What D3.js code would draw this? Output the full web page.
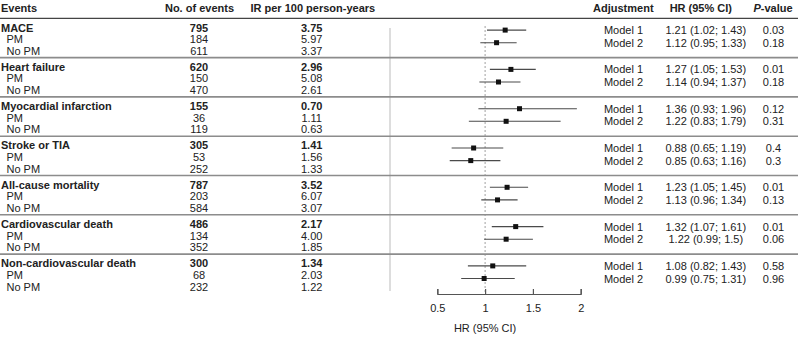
<!DOCTYPE html>
<html>
<head>
<meta charset="utf-8">
<script src="https://cdn.jsdelivr.net/npm/d3@7"></script>
<style>
  body { margin: 0; background: #fff; }
  svg text { font-family: "Liberation Sans", Arial, Helvetica, sans-serif; font-size: 11px; fill: #222; }
</style>
</head>
<body>
<script>
// ---- data ----
var groups = ["MACE", "Heart failure", "Myocardial infarction", "Stroke or TIA",
  "All-cause mortality", "Cardiovascular death", "Non-cardiovascular death"];
var subLabels = ["PM", "No PM"];
var eventsTotal = [795, 620, 155, 305, 787, 486, 300];
var eventsPM    = [184, 150, 36, 53, 203, 134, 68];
var eventsNoPM  = [611, 470, 119, 252, 584, 352, 232];
var irTotal = [3.75, 2.96, 0.70, 1.41, 3.52, 2.17, 1.34];
var irPM    = [5.97, 5.08, 1.11, 1.56, 6.07, 4.00, 2.03];
var irNoPM  = [3.37, 2.61, 0.63, 1.33, 3.07, 1.85, 1.22];
var models = ["Model 1", "Model 2"];
var hr1 = [1.21, 1.27, 1.36, 0.88, 1.23, 1.32, 1.08];
var lo1 = [1.02, 1.05, 0.93, 0.65, 1.05, 1.07, 0.82];
var hi1 = [1.43, 1.53, 1.96, 1.19, 1.45, 1.61, 1.43];
var p1  = [0.03, 0.01, 0.12, 0.4, 0.01, 0.01, 0.58];
var hr2 = [1.12, 1.14, 1.22, 0.85, 1.13, 1.22, 0.99];
var lo2 = [0.95, 0.94, 0.83, 0.63, 0.96, 0.99, 0.75];
var hi2 = [1.33, 1.37, 1.79, 1.16, 1.34, 1.5, 1.31];
var p2  = [0.18, 0.18, 0.31, 0.3, 0.13, 0.06, 0.96];
var xTicks = [0.5, 1, 1.5, 2];

var width = 798, height = 338;
var headerLine = 18.3, groupStep = 39.3;

var svg = d3.select("body").append("svg")
    .attr("width", width)
    .attr("height", height);

var x = d3.scaleLinear().domain([0.5, 2]).range([437.3, 580.7]);
function groupTop(i) { return headerLine + groupStep * i; }

// headers
var hdr = svg.append("g").attr("font-weight", "bold");
hdr.append("text").attr("x", 1).attr("y", 12).text("Events");
hdr.append("text").attr("x", 199.5).attr("y", 12).attr("text-anchor", "middle").text("No. of events");
hdr.append("text").attr("x", 312.8).attr("y", 12).attr("text-anchor", "middle").text("IR per 100 person-years");
hdr.append("text").attr("x", 623.3).attr("y", 12).attr("text-anchor", "middle").text("Adjustment");
hdr.append("text").attr("x", 700.8).attr("y", 12).attr("text-anchor", "middle").text("HR (95% CI)");
var pv = hdr.append("text").attr("x", 773).attr("y", 12).attr("text-anchor", "middle");
pv.append("tspan").attr("font-style", "italic").text("P");
pv.append("tspan").text("-value");

// light vertical line and reference line
svg.append("line")
  .attr("x1", 390).attr("x2", 390).attr("y1", 28).attr("y2", 291)
  .attr("stroke", "#d2d2d2").attr("stroke-width", 1.5);
svg.append("line")
  .attr("x1", x(1)).attr("x2", x(1)).attr("y1", 26).attr("y2", 292)
  .attr("stroke", "#a0a0a0").attr("stroke-width", 1).attr("stroke-dasharray", "2,2");

// horizontal rules
svg.append("line")
  .attr("x1", 0).attr("x2", width).attr("y1", headerLine).attr("y2", headerLine)
  .attr("stroke", "#444").attr("stroke-width", 1.2);
svg.selectAll(".sep").data(groups.slice(1)).enter().append("line")
  .attr("class", "sep")
  .attr("x1", 0).attr("x2", width)
  .attr("y1", function(d, i) { return groupTop(i + 1); })
  .attr("y2", function(d, i) { return groupTop(i + 1); })
  .attr("stroke", "#8c8c8c").attr("stroke-width", 1.6);

// left table
function rowY(i, j) { return groupTop(i) + 9.3 + 11.6 * j + 3.9; }
var g = svg.selectAll(".grp").data(groups).enter().append("g").attr("class", "grp");
g.append("text").attr("x", 1).attr("y", function(d, i) { return rowY(i, 0); })
  .attr("font-weight", "bold").text(function(d) { return d; });
g.append("text").attr("x", 199).attr("y", function(d, i) { return rowY(i, 0); })
  .attr("text-anchor", "middle").attr("font-weight", "bold")
  .text(function(d, i) { return eventsTotal[i]; });
g.append("text").attr("x", 311.7).attr("y", function(d, i) { return rowY(i, 0); })
  .attr("text-anchor", "middle").attr("font-weight", "bold")
  .text(function(d, i) { return irTotal[i].toFixed(2); });
subLabels.forEach(function(lab, j) {
  var ev = j === 0 ? eventsPM : eventsNoPM;
  var ir = j === 0 ? irPM : irNoPM;
  g.append("text").attr("x", 6.5).attr("y", function(d, i) { return rowY(i, j + 1); })
    .text(lab);
  g.append("text").attr("x", 199).attr("y", function(d, i) { return rowY(i, j + 1); })
    .attr("text-anchor", "middle").text(function(d, i) { return ev[i]; });
  g.append("text").attr("x", 311.7).attr("y", function(d, i) { return rowY(i, j + 1); })
    .attr("text-anchor", "middle").text(function(d, i) { return ir[i].toFixed(2); });
});

// forest + right table
function modelY(i, m) { return groupTop(i) + 11.8 + 12.6 * m; }
models.forEach(function(mod, m) {
  var hr = m === 0 ? hr1 : hr2, lo = m === 0 ? lo1 : lo2, hi = m === 0 ? hi1 : hi2, p = m === 0 ? p1 : p2;
  g.append("line")
    .attr("x1", function(d, i) { return x(lo[i]); })
    .attr("x2", function(d, i) { return x(hi[i]); })
    .attr("y1", function(d, i) { return modelY(i, m); })
    .attr("y2", function(d, i) { return modelY(i, m); })
    .attr("stroke", "#4a4a4a").attr("stroke-width", 1.1);
  g.append("rect")
    .attr("x", function(d, i) { return x(hr[i]) - 2.5; })
    .attr("y", function(d, i) { return modelY(i, m) - 2.5; })
    .attr("width", 5).attr("height", 5).attr("fill", "#111");
  g.append("text").attr("x", 623.5).attr("y", function(d, i) { return modelY(i, m) + 4; })
    .attr("text-anchor", "middle").text(mod);
  g.append("text").attr("x", 705.8).attr("y", function(d, i) { return modelY(i, m) + 4; })
    .attr("text-anchor", "middle")
    .text(function(d, i) { return hr[i] + " (" + lo[i] + "; " + hi[i] + ")"; });
  g.append("text").attr("x", 773.5).attr("y", function(d, i) { return modelY(i, m) + 4; })
    .attr("text-anchor", "middle").text(function(d, i) { return p[i]; });
});

// axis
var axis = svg.append("g")
  .attr("transform", "translate(0,294)")
  .call(d3.axisBottom(x).tickValues(xTicks).tickFormat(d3.format("")).tickSize(-5).tickSizeOuter(-5).tickPadding(10));
axis.selectAll("path, line").attr("stroke", "#555").attr("stroke-width", 1.2);
axis.selectAll("text").attr("font-size", 11).attr("font-family", null).attr("fill", "#222");

svg.append("text").attr("x", x(1)).attr("y", 332)
  .attr("text-anchor", "middle").text("HR (95% CI)");
</script>
</body>
</html>
